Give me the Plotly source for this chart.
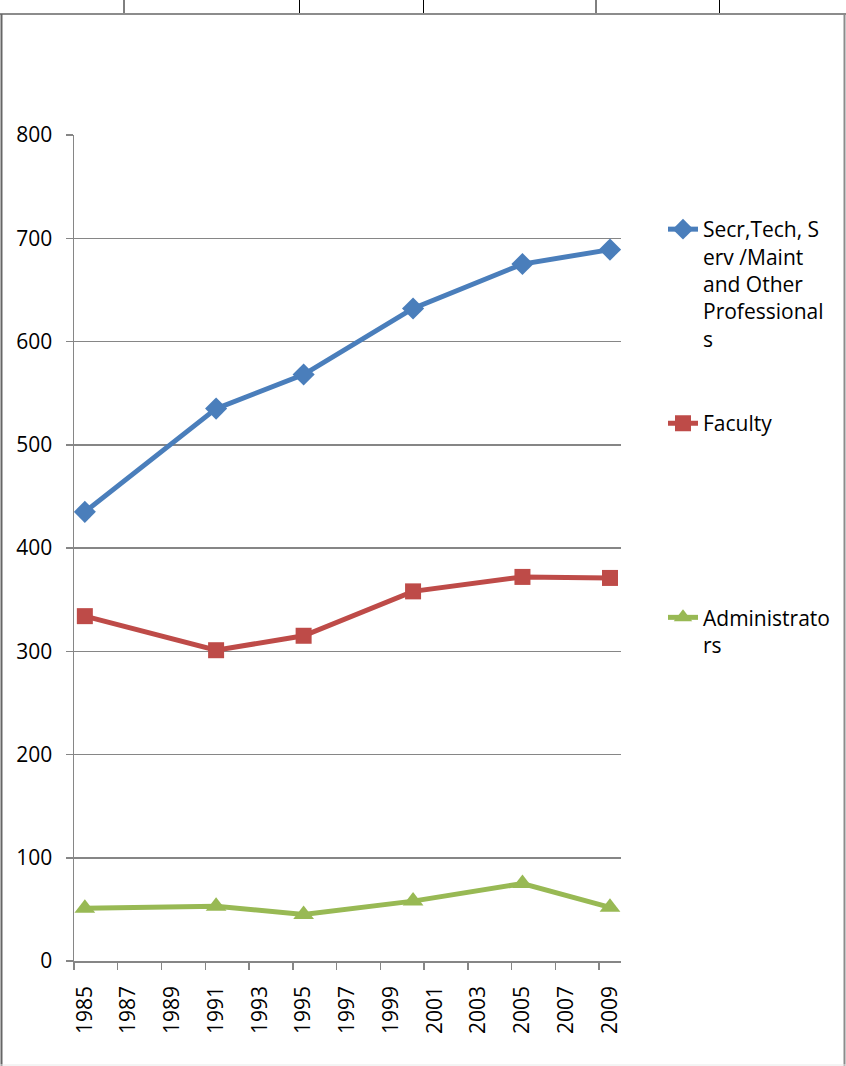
import plotly.graph_objects as go

# ---- data ----
dates = ["1985-07-01", "1991-07-01", "1995-07-01", "2000-07-01", "2005-07-01", "2009-07-01"]
secr_tech = [435, 535, 568, 632, 675, 689]
faculty = [334, 301, 315, 358, 372, 371]
administrators = [51, 53, 45, 58, 75, 52]
tick_years = [str(y) for y in range(1985, 2010, 2)]
y_ticks = [0, 100, 200, 300, 400, 500, 600, 700, 800]

W, H = 846, 1066
L, R, T, B = 74, 621, 135, 961  # plot area in pixels


def px(x):
    return (x - L) / (R - L)


def py(y):
    return (B - y) / (B - T)


FONT = "Open Sans"
fig = go.Figure()
fig.add_trace(go.Scatter(
    x=dates, y=secr_tech, mode="lines+markers",
    name="Secr,Tech, S<br>erv /Maint<br>and Other<br>Professional<br>s<br> <br> ",
    line=dict(color="#4A7EBB", width=5),
    marker=dict(symbol="diamond", size=17, color="#4A7EBB"),
))
fig.add_trace(go.Scatter(
    x=dates, y=faculty, mode="lines+markers",
    name="Faculty<br> <br> <br> <br> <br> <br> ",
    line=dict(color="#BE4B48", width=5),
    marker=dict(symbol="square", size=16, color="#BE4B48"),
))
fig.add_trace(go.Scatter(
    x=dates, y=administrators, mode="lines+markers",
    name="Administrato<br>rs",
    line=dict(color="#98B954", width=5),
    marker=dict(symbol="triangle-up", size=18, color="#98B954"),
))

axis_col = "#868686"
fig.update_xaxes(
    type="date",
    range=["1985-01-01", "2010-01-01"],
    tickmode="array",
    tickvals=[f"{y}-07-01" for y in tick_years],
    ticktext=tick_years,
    ticks="",
    tickangle=-90,
    ticklabelstandoff=15,
    automargin=False,
    showgrid=False,
    showline=True, linecolor=axis_col, linewidth=1.5,
    tickfont=dict(family=FONT, size=21, color="#000"),
    minor=dict(tickmode="array", tickvals=[f"{y}-01-01" for y in tick_years],
               ticks="outside", ticklen=7, tickcolor=axis_col, tickwidth=1.5,
               showgrid=False),
    fixedrange=True,
)
fig.update_yaxes(
    range=[0, 800],
    tickmode="array", tickvals=y_ticks,
    ticks="outside", ticklen=7, tickcolor=axis_col, tickwidth=1.5,
    ticklabelstandoff=9,
    automargin=False,
    showgrid=True, gridcolor=axis_col, gridwidth=1.5,
    showline=True, linecolor=axis_col, linewidth=1.5,
    zeroline=False,
    tickfont=dict(family=FONT, size=21, color="#000"),
    fixedrange=True,
)

shapes = []
# outer frame
shapes.append(dict(type="line", xref="paper", yref="paper", x0=px(0), x1=px(846), y0=py(14), y1=py(14),
                   line=dict(color="#8c8c8c", width=2)))
shapes.append(dict(type="line", xref="paper", yref="paper", x0=px(1.5), x1=px(1.5), y0=py(14), y1=py(1066),
                   line=dict(color="#666", width=2)))
shapes.append(dict(type="line", xref="paper", yref="paper", x0=px(844.5), x1=px(844.5), y0=py(14), y1=py(1066),
                   line=dict(color="#8c8c8c", width=2)))
shapes.append(dict(type="line", xref="paper", yref="paper", x0=px(0), x1=px(846), y0=py(1065), y1=py(1065),
                   line=dict(color="#e8e8e8", width=1)))
for xv in [124, 299.5, 423.5, 596, 719.5]:
    shapes.append(dict(type="line", xref="paper", yref="paper", x0=px(xv), x1=px(xv), y0=py(0), y1=py(13),
                       line=dict(color="#000", width=1)))

fig.update_layout(
    width=W, height=H,
    margin=dict(l=L, r=W - R, t=T, b=H - B, autoexpand=False),
    paper_bgcolor="white", plot_bgcolor="white",
    font=dict(family=FONT, size=21, color="#000"),
    showlegend=True,
    legend=dict(xref="container", yref="container",
                x=663 / W, y=1 - 209 / H, xanchor="left", yanchor="top",
                valign="top", tracegroupgap=0, itemwidth=30,
                font=dict(family=FONT, size=21, color="#000"),
                bgcolor="rgba(0,0,0,0)"),
    shapes=shapes,
)
fig.write_html("out.html",
               config={"displayModeBar": False, "staticPlot": True},
               post_script="document.body.style.margin='0';document.body.style.overflow='hidden';")
